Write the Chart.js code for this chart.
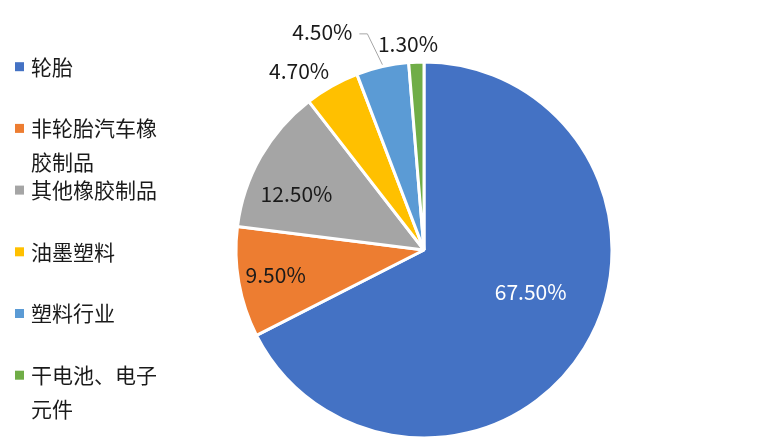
<!DOCTYPE html>
<html>
<head>
<meta charset="utf-8">
<script src="https://cdn.jsdelivr.net/npm/chart.js@4/dist/chart.umd.min.js"></script>
<style>
  html, body { margin: 0; padding: 0; background: #fff; }
  #wrap { width: 768px; height: 443px; position: relative; }
</style>
</head>
<body>
<div id="wrap"><canvas id="pie"></canvas></div>
<script>
// dados do gráfico
const categorias = ['轮胎', ['非轮胎汽车橡', '胶制品'], '其他橡胶制品', '油墨塑料', '塑料行业', ['干电池、电子', '元件']];
const valores = [67.5, 9.5, 12.5, 4.7, 4.5, 1.3];
const rotulos = ['67.50%', '9.50%', '12.50%', '4.70%', '4.50%', '1.30%'];
const cores = ['#4472C4', '#ED7D31', '#A5A5A5', '#FFC000', '#5B9BD5', '#70AD47'];

// posição dos rótulos: fração do raio e desvio de ângulo (graus)
const rotuloRaio = [0.61, 0.80, 0.74, 1.16, 1.28, 1.10];
const rotuloDesvio = [-9.9, 0.4, -6.1, -5.6, -12.2, -2.1];
const rotuloCor = ['#ffffff', '#1a1a1a', '#1a1a1a', '#1a1a1a', '#1a1a1a', '#1a1a1a'];

const FONTE = '"Noto Sans CJK SC", "Noto Sans", sans-serif';

// legenda desenhada à mão (itens com quebra de linha)
const legendaPlugin = {
    id: 'legendaManual',
    afterDraw(chart) {
        const ctx = chart.ctx;
        ctx.save();
        ctx.font = '21px ' + FONTE;
        ctx.textBaseline = 'middle';
        ctx.textAlign = 'left';
        chart.data.labels.forEach((lab, i) => {
            const y = 66.7 + i * 61.7;
            ctx.fillStyle = cores[i];
            ctx.fillRect(15, y - 4.5, 9, 9);
            ctx.fillStyle = '#1a1a1a';
            const linhas = Array.isArray(lab) ? lab : [lab];
            linhas.forEach((t, k) => ctx.fillText(t, 31, y + k * 34));
        });
        ctx.restore();
    }
};

// rótulos de dados a partir da geometria dos arcos
const rotulosPlugin = {
    id: 'rotulosDados',
    afterDatasetsDraw(chart) {
        const ctx = chart.ctx;
        const arcs = chart.getDatasetMeta(0).data;
        ctx.save();
        ctx.font = '21px ' + FONTE;
        ctx.textAlign = 'center';
        ctx.textBaseline = 'middle';
        arcs.forEach((arc, i) => {
            const p = arc.getProps(['x', 'y', 'startAngle', 'endAngle', 'outerRadius'], true);
            const mid = (p.startAngle + p.endAngle) / 2 + rotuloDesvio[i] * Math.PI / 180;
            const r = p.outerRadius * rotuloRaio[i];
            const lx = p.x + Math.cos(mid) * r;
            const ly = p.y + Math.sin(mid) * r;
            if (i === 4) {
                // linha de chamada até a borda da fatia
                const m0 = (p.startAngle + p.endAngle) / 2;
                const ex = p.x + Math.cos(m0) * p.outerRadius;
                const ey = p.y + Math.sin(m0) * p.outerRadius;
                ctx.strokeStyle = '#a6a6a6';
                ctx.lineWidth = 1;
                ctx.beginPath();
                ctx.moveTo(lx + 37, ly + 2);
                ctx.lineTo(lx + 45, ly + 2);
                ctx.lineTo(ex, ey - 2);
                ctx.stroke();
            }
            ctx.fillStyle = rotuloCor[i];
            ctx.fillText(chart.data.datasets[0].labels2[i], lx, ly);
        });
        ctx.restore();
    }
};

new Chart(document.getElementById('pie'), {
    type: 'pie',
    data: {
        labels: categorias,
        datasets: [{
            data: valores,
            labels2: rotulos,
            backgroundColor: cores,
            borderColor: '#ffffff',
            borderWidth: 3
        }]
    },
    options: {
        responsive: true,
        maintainAspectRatio: false,
        animation: false,
        layout: { padding: { left: 234.5, right: 154.5, top: 60.5, bottom: 3.5 } },
        plugins: {
            legend: { display: false },
            tooltip: { enabled: false }
        }
    },
    plugins: [legendaPlugin, rotulosPlugin]
});
</script>
</body>
</html>
